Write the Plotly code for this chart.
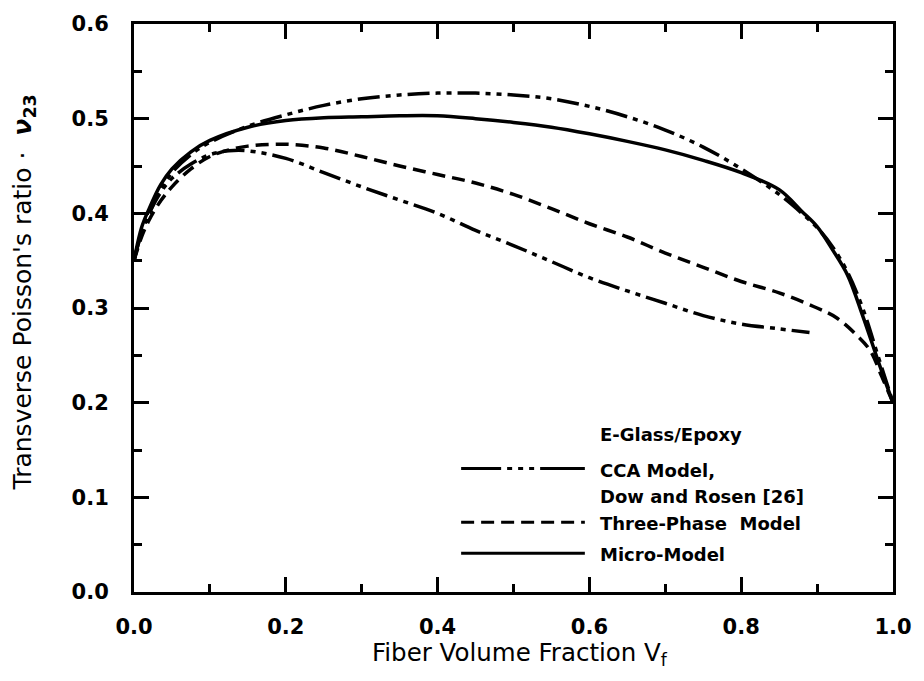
import plotly.graph_objects as go

# ---- data ----
micro_x = [0, 0.01, 0.02, 0.035, 0.05, 0.075, 0.1, 0.15, 0.2, 0.25, 0.3, 0.35, 0.4, 0.45, 0.5,
           0.55, 0.6, 0.65, 0.7, 0.75, 0.8, 0.85, 0.88, 0.9, 0.92, 0.94, 0.96, 0.98, 0.99, 1.0]
micro_y = [0.35, 0.385, 0.405, 0.43, 0.447, 0.465, 0.477, 0.491, 0.498, 0.501, 0.502, 0.503, 0.503,
           0.5, 0.496, 0.491, 0.484, 0.476, 0.467, 0.456, 0.443, 0.425, 0.402, 0.386, 0.362, 0.335,
           0.292, 0.245, 0.222, 0.2]

cca_up_x = [0, 0.01, 0.02, 0.035, 0.05, 0.075, 0.1, 0.15, 0.2, 0.25, 0.3, 0.35, 0.4, 0.45, 0.5,
            0.55, 0.6, 0.65, 0.7, 0.75, 0.8, 0.85, 0.88, 0.9, 0.92, 0.94, 0.96, 0.98, 1.0]
cca_up_y = [0.35, 0.38, 0.4, 0.425, 0.443, 0.462, 0.475, 0.492, 0.504, 0.514, 0.521, 0.525, 0.527,
            0.527, 0.525, 0.521, 0.513, 0.502, 0.488, 0.47, 0.447, 0.42, 0.4, 0.385, 0.365, 0.338,
            0.3, 0.25, 0.2]

cca_lo_x = [0, 0.01, 0.02, 0.035, 0.05, 0.075, 0.1, 0.125, 0.15, 0.2, 0.25, 0.3, 0.35, 0.4, 0.45,
            0.5, 0.55, 0.6, 0.65, 0.7, 0.75, 0.8, 0.85, 0.89]
cca_lo_y = [0.35, 0.38, 0.4, 0.422, 0.437, 0.452, 0.462, 0.466, 0.466, 0.458, 0.443, 0.428, 0.414,
            0.4, 0.382, 0.366, 0.349, 0.332, 0.318, 0.305, 0.292, 0.283, 0.278, 0.274]

three_x = [0, 0.01, 0.02, 0.035, 0.05, 0.075, 0.1, 0.125, 0.15, 0.2, 0.25, 0.3, 0.35, 0.4, 0.45,
           0.5, 0.55, 0.6, 0.65, 0.7, 0.75, 0.8, 0.85, 0.9, 0.925, 0.95, 0.97, 0.985, 1.0]
three_y = [0.35, 0.375, 0.393, 0.413, 0.428, 0.447, 0.46, 0.467, 0.471, 0.473, 0.469, 0.46, 0.45,
           0.441, 0.432, 0.42, 0.405, 0.389, 0.375, 0.358, 0.343, 0.328, 0.316, 0.3, 0.29, 0.273,
           0.255, 0.228, 0.2]

x_ticks = [0.0, 0.2, 0.4, 0.6, 0.8, 1.0]
y_ticks = [0.0, 0.1, 0.2, 0.3, 0.4, 0.5, 0.6]

legend_title = "E-Glass/Epoxy"
legend_lines = ["CCA Model,", "Dow and Rosen [26]", "Three-Phase  Model", "Micro-Model"]

# ---- styles ----
CCA_DASH = "22px,6px,5px,6px,5px,6px"
THREE_DASH = "13px,7px"
LW = 3.5
BLACK = "black"

fig = go.Figure()
fig.add_trace(go.Scatter(x=cca_up_x, y=cca_up_y, mode="lines", line_shape="spline",
                         line=dict(color=BLACK, width=LW, dash=CCA_DASH)))
fig.add_trace(go.Scatter(x=cca_lo_x, y=cca_lo_y, mode="lines", line_shape="spline",
                         line=dict(color=BLACK, width=LW, dash=CCA_DASH)))
fig.add_trace(go.Scatter(x=three_x, y=three_y, mode="lines", line_shape="spline",
                         line=dict(color=BLACK, width=LW, dash=THREE_DASH)))
fig.add_trace(go.Scatter(x=micro_x, y=micro_y, mode="lines", line_shape="spline",
                         line=dict(color=BLACK, width=LW)))

# legend swatches (inside the plot, like the reference)
sw_x0, sw_x1 = 0.431, 0.594
sw_y = [0.1305, 0.0737, 0.041]
sw_dash = ["40px,6px,5px,6px,5px,6px,5px,6px,60px", "13px,7px", "solid"]
for yy, dd in zip(sw_y, sw_dash):
    fig.add_trace(go.Scatter(x=[sw_x0, sw_x1], y=[yy, yy], mode="lines",
                             line=dict(color=BLACK, width=3, dash=dd)))

txt_font = dict(family="DejaVu Sans, sans-serif", size=18, color=BLACK)
fig.add_annotation(x=0.611, y=0.166, xref="x", yref="y", text="<b>" + legend_title + "</b>",
                   showarrow=False, xanchor="left", yanchor="middle", font=txt_font)
for yy, lab in zip([0.128, 0.101, 0.0726, 0.04], legend_lines):
    fig.add_annotation(x=0.611, y=yy, xref="x", yref="y", text="<b>" + lab + "</b>",
                       showarrow=False, xanchor="left", yanchor="middle", align="left",
                       font=txt_font)

# axis titles
fig.add_annotation(x=0.508, y=-0.11, xref="paper", yref="paper",
                   text="Fiber Volume Fraction V<sub>f</sub>", showarrow=False,
                   xanchor="center", yanchor="middle",
                   font=dict(family="DejaVu Sans, sans-serif", size=24.5, color=BLACK))
fig.add_annotation(x=-0.1445, y=0.528, xref="paper", yref="paper", textangle=-90,
                   text="Transverse Poisson's ratio ·  <b><i>ν</i><sub>23</sub></b>",
                   showarrow=False, xanchor="center", yanchor="middle",
                   font=dict(family="DejaVu Sans, sans-serif", size=25, color=BLACK))

tick_font = dict(family="DejaVu Sans, sans-serif", size=21, color=BLACK)
axis_common = dict(showline=True, linecolor=BLACK, linewidth=3, mirror="allticks",
                   ticks="inside", ticklen=15, tickwidth=2.5, tickcolor=BLACK,
                   showgrid=False, zeroline=False, tickfont=tick_font)

fig.update_xaxes(range=[0, 1.0], tickvals=x_ticks,
                 ticktext=["<b>%.1f</b>" % v for v in x_ticks],
                 minor=dict(dtick=0.1, tick0=0, ticks="inside", ticklen=8, tickwidth=2.5,
                            tickcolor=BLACK, showgrid=False),
                 ticklabelstandoff=14, **axis_common)
fig.update_yaxes(range=[0, 0.6], tickvals=y_ticks,
                 ticktext=["<b>%.1f</b>" % v for v in y_ticks],
                 minor=dict(dtick=0.05, tick0=0, ticks="inside", ticklen=8, tickwidth=2.5,
                            tickcolor=BLACK, showgrid=False),
                 ticklabelstandoff=18, **axis_common)

fig.update_layout(width=924, height=681, showlegend=False,
                  margin=dict(l=134, r=22, t=22, b=89),
                  plot_bgcolor="white", paper_bgcolor="white")

fig.write_html("out.html")
